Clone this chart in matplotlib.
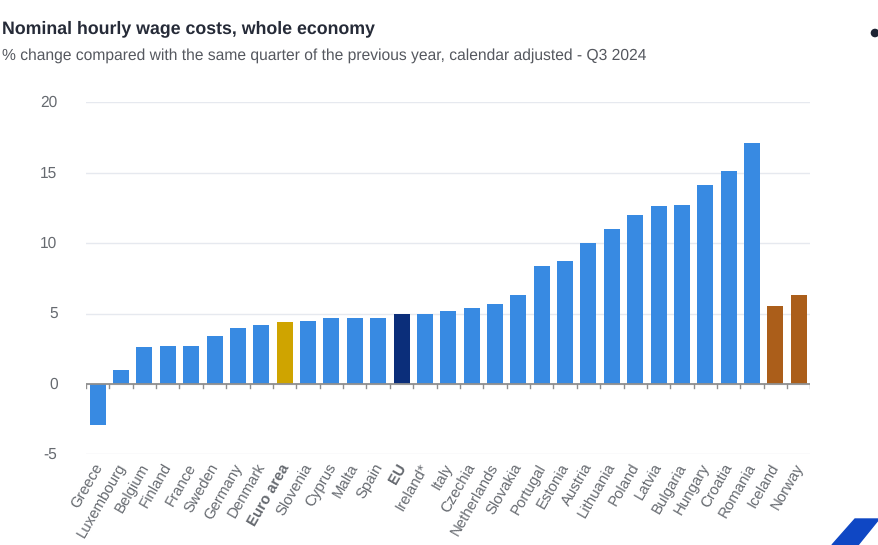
import matplotlib
matplotlib.use("Agg")
import matplotlib.pyplot as plt
from matplotlib.patches import Polygon, Circle
from matplotlib.transforms import ScaledTranslation

plt.rcParams["font.family"] = ["Liberation Sans", "DejaVu Sans"]
plt.rcParams["axes.unicode_minus"] = False
plt.rcParams["text.hinting"] = "no_hinting"

countries = ["Greece", "Luxembourg", "Belgium", "Finland", "France", "Sweden", "Germany",
             "Denmark", "Euro area", "Slovenia", "Cyprus", "Malta", "Spain", "EU", "Ireland*",
             "Italy", "Czechia", "Netherlands", "Slovakia", "Portugal", "Estonia", "Austria",
             "Lithuania", "Poland", "Latvia", "Bulgaria", "Hungary", "Croatia", "Romania",
             "Iceland", "Norway"]
values = [-2.9, 1.0, 2.6, 2.7, 2.7, 3.4, 4.0, 4.2, 4.4, 4.5, 4.7, 4.7, 4.7, 5.0, 5.0,
          5.2, 5.4, 5.7, 6.3, 8.4, 8.7, 10.0, 11.0, 12.0, 12.6, 12.7, 14.1, 15.1, 17.1,
          5.5, 6.3]
y_ticks = [-5, 0, 5, 10, 15, 20]

BLUE = "#388ae2"
colors = {"Euro area": "#cfa400", "EU": "#0b2e7a", "Iceland": "#ab5e1a", "Norway": "#ab5e1a"}
bar_colors = [colors.get(c, BLUE) for c in countries]

W, H = 879, 545
fig = plt.figure(figsize=(W / 100, H / 100), dpi=100, facecolor="white")
ax = fig.add_axes([86 / W, 1 - 454.3 / H, (810.5 - 86) / W, (454.3 - 102.3) / H])

x = list(range(len(countries)))
ax.bar(x, values, width=0.685, color=bar_colors, zorder=2)
ax.set_xlim(-0.5, len(countries) - 0.5)
ax.set_ylim(-5, 20)

# gridlines and zero axis
ax.set_yticks(y_ticks)
ax.grid(axis="y", color="#e6e9ef", linewidth=1, zorder=0)
ax.set_axisbelow(True)
ax.tick_params(axis="y", length=0, pad=20.5, labelsize=11.2, labelcolor="#666a70")
for lab in ax.get_yticklabels():
    lab.set_transform(lab.get_transform() + ScaledTranslation(0, 1 / 100, fig.dpi_scale_trans))
for s in ax.spines.values():
    s.set_visible(False)
ax.set_xticks([])
ax.axhline(0, color="#8f8f8f", linewidth=1.3, zorder=3)
for i in range(len(countries) + 1):
    ax.plot([i - 0.5, i - 0.5], [0, -0.3], color="#8f8f8f", linewidth=1, zorder=3)

# rotated country labels, EU aggregates are bold
for i, name in enumerate(countries):
    bold = name in ("Euro area", "EU")
    ax.annotate(name, xy=(i, -5), xytext=(-3.5, -5), textcoords="offset points",
                rotation=60, ha="right", va="top", rotation_mode="anchor",
                fontsize=10.8, color="#666a70", fontweight="bold" if bold else "normal")

fig.text(2 / W, 1 - 28.5 / H, "Nominal hourly wage costs, whole economy", fontsize=12.8,
         fontweight="bold", color="#262b38", va="center")
fig.text(2 / W, 1 - 55.5 / H,
         "% change compared with the same quarter of the previous year, calendar adjusted - Q3 2024",
         fontsize=11.27, color="#55585f", va="center")

# page furniture: menu dot and logo corner
overlay = fig.add_axes([0, 0, 1, 1], facecolor="none")
overlay.set_xlim(0, W)
overlay.set_ylim(H, 0)
overlay.axis("off")
overlay.add_patch(Circle((875, 33), 3.6, color="#1d2433"))
overlay.add_patch(Polygon([(855, 519), (879, 519), (858, 545), (832, 545)], color="#0f47c4"))

fig.savefig("out.png", dpi=100)
plt.close(fig)
